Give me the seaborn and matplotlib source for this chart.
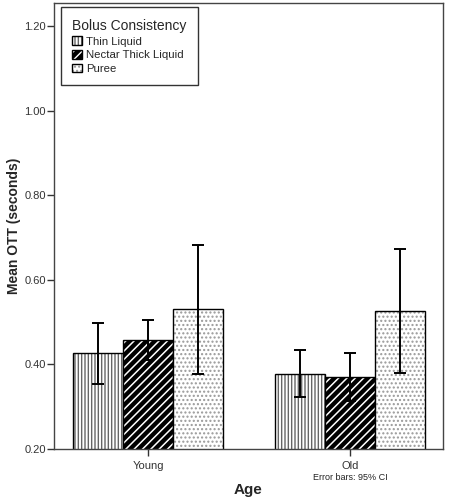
import numpy as np
import pandas as pd
import matplotlib
matplotlib.use("Agg")
import matplotlib.pyplot as plt
import matplotlib.colors as mcolors
import seaborn as sns

# Values
ages = ["Young", "Old"]
consistencies = ["Thin Liquid", "Nectar Thick Liquid", "Puree"]
mean_young = [0.427, 0.458, 0.531]
mean_old = [0.377, 0.370, 0.526]
ci_low_young = [0.354, 0.410, 0.377]
ci_high_young = [0.498, 0.505, 0.682]
ci_low_old = [0.323, 0.313, 0.379]
ci_high_old = [0.434, 0.427, 0.673]

sns.set_theme(style="white")
plt.rcParams["font.family"] = ["Liberation Sans", "DejaVu Sans"]
plt.rcParams["hatch.linewidth"] = 1.0

df = pd.DataFrame({
    "Age": np.repeat(ages, len(consistencies)),
    "Bolus": consistencies * len(ages),
    "Mean": mean_young + mean_old,
    "Low": ci_low_young + ci_low_old,
    "High": ci_high_young + ci_high_old,
})

fig = plt.figure(figsize=(4.49, 5.0), dpi=100)
ax = fig.add_axes([54 / 449, 51 / 500, 389 / 449, 446 / 500])

sns.barplot(data=df, x="Age", y="Mean", hue="Bolus", order=ages,
            hue_order=consistencies, palette=["white"] * 3, errorbar=None,
            width=0.74, edgecolor="black", linewidth=1.0, ax=ax, legend=False)

bar_conts = list(ax.containers)

# hatch styles: vertical lines, black with white stripes, light dots
styles = [("|||||", "white", "#666666", 1.0),
          ("////", "black", "white", 1.1),
          ("....", "white", "#999999", 1.0)]
for cont, (h, fc, hc, hlw) in zip(bar_conts, styles):
    for bar in cont:
        bar.set_facecolor(fc)
        bar.set_edgecolor("black")
        bar.set_hatch(h)
        bar._hatch_color = mcolors.to_rgba(hc)
        if hasattr(bar, "set_hatch_linewidth"):
            bar.set_hatch_linewidth(hlw)
        else:
            bar._hatch_linewidth = hlw

# error bars (95% CI) on top of the seaborn bars
for cont, bolus in zip(bar_conts, consistencies):
    sub = df[df["Bolus"] == bolus].set_index("Age").loc[ages]
    xs = [b.get_x() + b.get_width() / 2 for b in cont]
    yerr = [sub["Mean"] - sub["Low"], sub["High"] - sub["Mean"]]
    ax.errorbar(xs, sub["Mean"], yerr=yerr, fmt="none", ecolor="black",
                elinewidth=1.4, capsize=4, capthick=1.4)

ax.set_ylim(0.2, 1.255)
ax.set_xlim(-0.465, 1.46)
ax.set_yticks([0.2, 0.4, 0.6, 0.8, 1.0, 1.2])
ax.set_yticklabels([f"{v:.2f}" for v in [0.2, 0.4, 0.6, 0.8, 1.0, 1.2]])
ax.tick_params(axis="both", which="both", length=5, width=1, color="#333333",
               labelsize=8, labelcolor="#333333", direction="out",
               left=True, bottom=True)
ax.tick_params(axis="y", pad=1)
for s in ax.spines.values():
    s.set_color("#444444")
    s.set_linewidth(1.0)

ax.set_ylabel("Mean OTT (seconds)", fontsize=10, fontweight="bold", labelpad=2)
ax.set_xlabel("Age", fontsize=11, fontweight="bold", labelpad=9)
fig.text(350 / 449, 1 - 478 / 500, "Error bars: 95% CI", fontsize=6.5,
         ha="center", va="center", color="#222222")

handles = [cont.patches[0] for cont in bar_conts]
leg = ax.legend(handles=handles, labels=consistencies, title="Bolus Consistency",
                loc="upper left", bbox_to_anchor=(0.018, 0.99), fontsize=8.2,
                title_fontsize=10, frameon=True, fancybox=False, borderpad=1.0,
                handlelength=0.8, handleheight=0.8, handletextpad=0.4,
                labelspacing=0.3, borderaxespad=0.0)
leg.get_frame().set_edgecolor("black")
leg.get_frame().set_linewidth(1.0)
leg._legend_box.align = "left"

fig.savefig("out.png", dpi=100)
